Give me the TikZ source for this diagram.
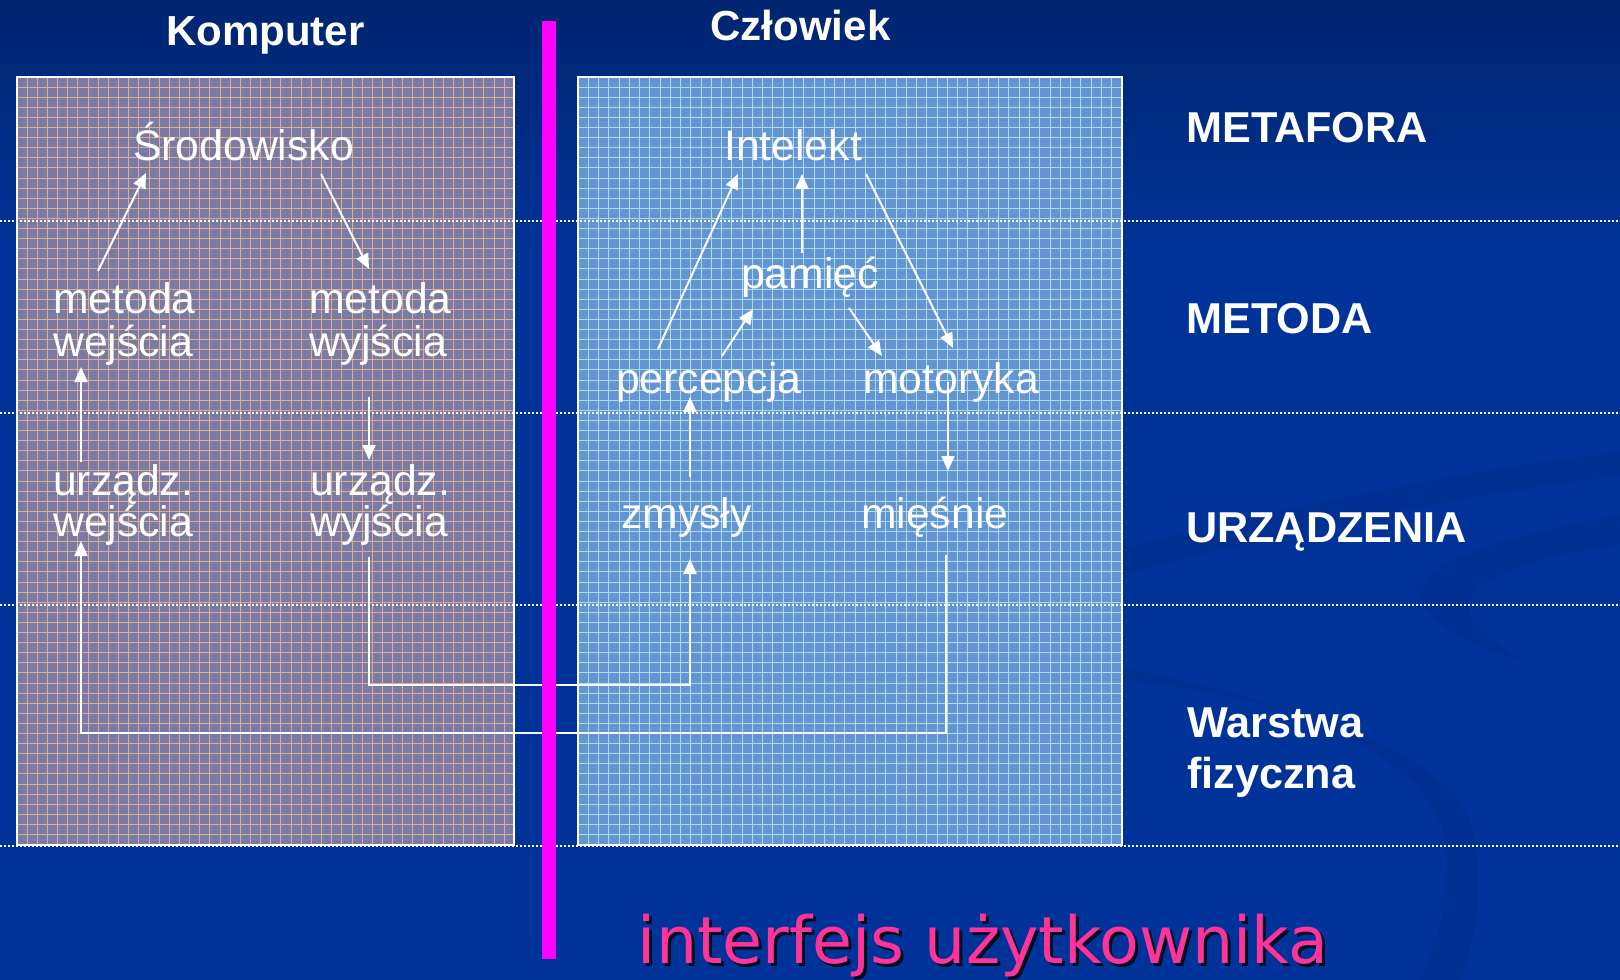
\documentclass[tikz,border=0pt]{standalone}
\usepackage{fontspec}
\setmainfont{Liberation Sans}
\newfontfamily\captionfont{DejaVu Sans}
\usetikzlibrary{arrows.meta}

\definecolor{navytop}{RGB}{0,37,112}
\definecolor{navy}{RGB}{0,51,153}
\definecolor{swirl}{RGB}{0,38,128}
\definecolor{compfill}{RGB}{122,122,164}
\definecolor{compgrid}{RGB}{214,176,146}
\definecolor{humfill}{RGB}{100,148,210}
\definecolor{humgrid}{RGB}{168,222,238}
\definecolor{divider}{RGB}{255,0,255}
\definecolor{pinktext}{RGB}{255,51,153}

% two stacked lines whose baseline is the first one
\newcommand\pairlines[3]{\vtop{\baselineskip=#3\relax\hbox{#1}\hbox{#2}}}

\begin{document}
\begin{tikzpicture}[x=1pt,y=-1pt,
  conn/.style={white, line width=2pt},
  arr/.style={conn, -{Triangle[length=15pt,width=13pt]}},
  lbl/.style={inner sep=0pt, text=white, font=\fontsize{42.7}{43}\selectfont, anchor=base west},
  layer/.style={inner sep=0pt, text=white, font=\bfseries\fontsize{43.2}{43}\selectfont, anchor=base west},
  head/.style={inner sep=0pt, text=white, font=\bfseries\fontsize{42}{43}\selectfont, anchor=base},
  sep/.style={white, line width=1.6pt, dash pattern=on 1.6pt off 2.4pt},
  panel/.style={draw=white, line width=1.5pt},
  gridline/.style={line width=0.9pt},
]
\useasboundingbox (0,0) rectangle (1620,980);

% background
\fill[navy] (0,0) rectangle (1620,980);
\shade[top color=navytop, bottom color=navy] (0,0) rectangle (1620,260);

% faint swirls in the lower right
\begin{scope}[opacity=0.25]
\fill[swirl] (1122,548) .. controls (1300,505) and (1460,470) .. (1620,452)
  -- (1620,476) .. controls (1460,495) and (1300,530) .. (1122,575) -- cycle;
\fill[swirl] (1620,515) .. controls (1480,540) and (1405,570) .. (1422,602)
  .. controls (1440,632) and (1480,650) .. (1525,662)
  .. controls (1492,640) and (1462,622) .. (1470,600)
  .. controls (1480,575) and (1540,556) .. (1620,545) -- cycle;
\fill[swirl] (1122,668) .. controls (1300,700) and (1430,760) .. (1445,840)
  .. controls (1452,880) and (1440,940) .. (1420,980) -- (1460,980)
  .. controls (1480,930) and (1485,870) .. (1470,820)
  .. controls (1440,750) and (1300,700) .. (1122,680) -- cycle;
\end{scope}

% computer panel
\fill[compfill] (17,77) rectangle (514,845);
\begin{scope}
\clip (17,77) rectangle (514,845);
\foreach \i in {1,...,49} \draw[compgrid, gridline] ({17+\i*10.15},77) -- ++(0,768);
\foreach \j in {1,...,76} \draw[compgrid, gridline] (17,{77+\j*10.1}) -- ++(497,0);
\end{scope}
\draw[panel] (17,77) rectangle (514,845);

% human panel
\fill[humfill] (578,77) rectangle (1122,845);
\begin{scope}
\clip (578,77) rectangle (1122,845);
\foreach \i in {1,...,53} \draw[humgrid, gridline] ({578+\i*10.26},77) -- ++(0,768);
\foreach \j in {1,...,76} \draw[humgrid, gridline] (578,{77+\j*10.1}) -- ++(544,0);
\end{scope}
\draw[panel] (578,77) rectangle (1122,845);

% layer separators
\foreach \y in {221,413,605,846} \draw[sep] (0,\y) -- (1620,\y);

% column headings
\node[head] (komp) at (265.5,45) {Komputer};
\node[head] (czl) at (800.5,40) {Człowiek};

% computer side
\node[lbl] (srod) at (133,160) {Środowisko};
\node[lbl] (mwe) at (53,313) {\pairlines{metoda}{wejścia}{43pt}};
\node[lbl] (mwy) at (309,313) {\pairlines{metoda}{wyjścia}{43pt}};
\node[lbl] (uwe) at (53,495) {\pairlines{urządz.}{wejścia}{37pt}};
\node[lbl] (uwy) at (310,495) {\pairlines{urządz.}{wyjścia}{37pt}};

% human side
\node[lbl] (intel) at (724,160) {Intelekt};
\node[lbl] (pam) at (741,288) {pamięć};
\node[lbl] (perc) at (616,393) {percepcja};
\node[lbl] (motor) at (863,393) {motoryka};
\node[lbl] (zmy) at (621,528) {zmysły};
\node[lbl] (mies) at (861,528) {mięśnie};

% layer names
\node[layer] (metafora) at (1186,142) {METAFORA};
\node[layer] (metoda) at (1186,333) {METODA};
\node[layer] (urz) at (1186,542) {URZĄDZENIA};
\node[layer] (warstwa) at (1187,737) {\pairlines{Warstwa}{fizyczna}{51pt}};

% connector ends
\coordinate (mwe-out) at (98,271);
\coordinate (srod-in) at (146,173);
\coordinate (srod-out) at (321,174);
\coordinate (mwy-in) at (369,269);
\coordinate (mwy-out) at (369,397);
\coordinate (uwy-in) at (369,460);
\coordinate (uwe-out) at (81,462);
\coordinate (mwe-in) at (81,367);
\coordinate (uwy-out) at (369,557);
\coordinate (uwe-in) at (81,541);
\coordinate (zmy-in) at (690,559);
\coordinate (zmy-out) at (690,477);
\coordinate (perc-in) at (690,397);
\coordinate (perc-up) at (658,349);
\coordinate (perc-mem) at (722,356);
\coordinate (intel-left) at (738,174);
\coordinate (intel-mid) at (802,174);
\coordinate (intel-out) at (866,174);
\coordinate (pam-in) at (753,309);
\coordinate (pam-up) at (802,253);
\coordinate (pam-down) at (849,308);
\coordinate (motor-in) at (882,356);
\coordinate (motor-right) at (953,348);
\coordinate (motor-out) at (948,382);
\coordinate (mies-in) at (948,471);
\coordinate (mies-out) at (946,555);

% computer flow
\draw[arr] (mwe-out) -- (srod-in);
\draw[arr] (srod-out) -- (mwy-in);
\draw[arr] (mwy-out) -- (uwy-in);
\draw[arr] (uwe-out) -- (mwe-in);

% human flow
\draw[arr] (zmy-out) -- (perc-in);
\draw[arr] (perc-up) -- (intel-left);
\draw[arr] (perc-mem) -- (pam-in);
\draw[arr] (pam-up) -- (intel-mid);
\draw[arr] (pam-down) -- (motor-in);
\draw[arr] (intel-out) -- (motor-right);
\draw[arr] (motor-out) -- (mies-in);

% physical layer links
\draw[arr] (uwy-out) -- ++(0,128) -| (zmy-in);
\draw[arr] (mies-out) -- ++(0,178) -| (uwe-in);

% interface divider
\fill[divider] (542,21) rectangle (556,959);

% caption
\node[inner sep=0pt, anchor=base, text=black!80!navy, font=\captionfont\fontsize{65}{65}\selectfont] (iface-shadow) at (986,966) {interfejs użytkownika};
\node[inner sep=0pt, anchor=base, text=pinktext, font=\captionfont\fontsize{65}{65}\selectfont] (iface) at (983,963) {interfejs użytkownika};
\end{tikzpicture}
\end{document}
